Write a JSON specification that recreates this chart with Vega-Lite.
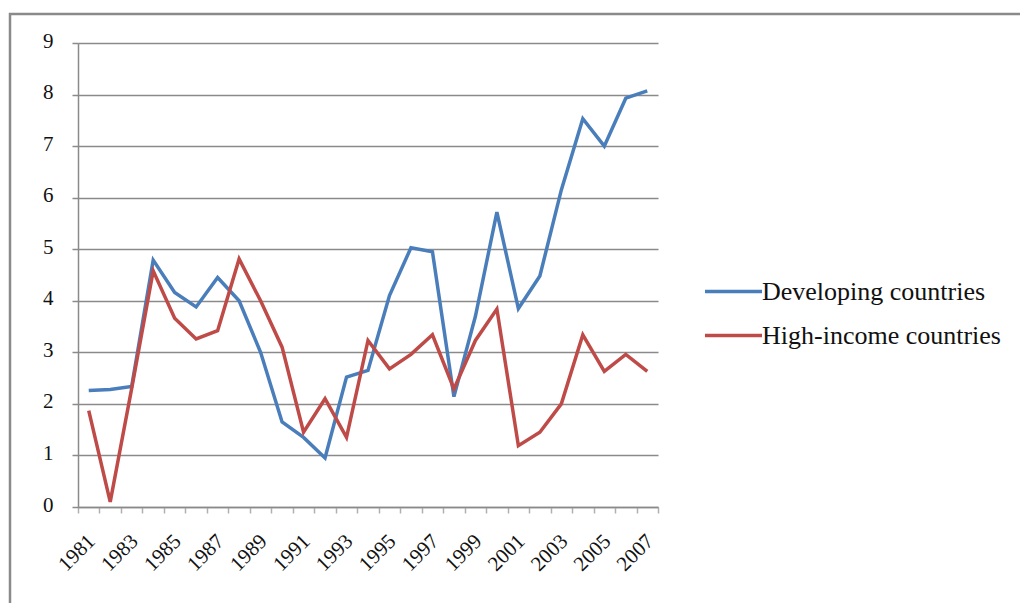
{
  "$schema": "https://vega.github.io/schema/vega-lite/v6.json",
  "width": 1015,
  "height": 600,
  "autosize": {"type": "none"},
  "padding": {"left": 10, "top": 14, "right": 0, "bottom": 0},
  "background": "white",
  "config": {
    "view": {"stroke": "#8a8a8a", "strokeWidth": 2.5},
    "font": "Liberation Serif"
  },
  "data": {
    "values": [
      {"year": "1981", "series": "Developing countries", "value": 2.26},
      {"year": "1982", "series": "Developing countries", "value": 2.28},
      {"year": "1983", "series": "Developing countries", "value": 2.34},
      {"year": "1984", "series": "Developing countries", "value": 4.79},
      {"year": "1985", "series": "Developing countries", "value": 4.16},
      {"year": "1986", "series": "Developing countries", "value": 3.88},
      {"year": "1987", "series": "Developing countries", "value": 4.45},
      {"year": "1988", "series": "Developing countries", "value": 4.0},
      {"year": "1989", "series": "Developing countries", "value": 3.0},
      {"year": "1990", "series": "Developing countries", "value": 1.65},
      {"year": "1991", "series": "Developing countries", "value": 1.35},
      {"year": "1992", "series": "Developing countries", "value": 0.95},
      {"year": "1993", "series": "Developing countries", "value": 2.52},
      {"year": "1994", "series": "Developing countries", "value": 2.65},
      {"year": "1995", "series": "Developing countries", "value": 4.1},
      {"year": "1996", "series": "Developing countries", "value": 5.03},
      {"year": "1997", "series": "Developing countries", "value": 4.95},
      {"year": "1998", "series": "Developing countries", "value": 2.14},
      {"year": "1999", "series": "Developing countries", "value": 3.7},
      {"year": "2000", "series": "Developing countries", "value": 5.72},
      {"year": "2001", "series": "Developing countries", "value": 3.85},
      {"year": "2002", "series": "Developing countries", "value": 4.48},
      {"year": "2003", "series": "Developing countries", "value": 6.15},
      {"year": "2004", "series": "Developing countries", "value": 7.53},
      {"year": "2005", "series": "Developing countries", "value": 7.0},
      {"year": "2006", "series": "Developing countries", "value": 7.93},
      {"year": "2007", "series": "Developing countries", "value": 8.07},
      {"year": "1981", "series": "High-income countries", "value": 1.87},
      {"year": "1982", "series": "High-income countries", "value": 0.1},
      {"year": "1983", "series": "High-income countries", "value": 2.3},
      {"year": "1984", "series": "High-income countries", "value": 4.58},
      {"year": "1985", "series": "High-income countries", "value": 3.66},
      {"year": "1986", "series": "High-income countries", "value": 3.26},
      {"year": "1987", "series": "High-income countries", "value": 3.42},
      {"year": "1988", "series": "High-income countries", "value": 4.81},
      {"year": "1989", "series": "High-income countries", "value": 4.0},
      {"year": "1990", "series": "High-income countries", "value": 3.1},
      {"year": "1991", "series": "High-income countries", "value": 1.45},
      {"year": "1992", "series": "High-income countries", "value": 2.1},
      {"year": "1993", "series": "High-income countries", "value": 1.35},
      {"year": "1994", "series": "High-income countries", "value": 3.23},
      {"year": "1995", "series": "High-income countries", "value": 2.68},
      {"year": "1996", "series": "High-income countries", "value": 2.96},
      {"year": "1997", "series": "High-income countries", "value": 3.34},
      {"year": "1998", "series": "High-income countries", "value": 2.29},
      {"year": "1999", "series": "High-income countries", "value": 3.23},
      {"year": "2000", "series": "High-income countries", "value": 3.84},
      {"year": "2001", "series": "High-income countries", "value": 1.19},
      {"year": "2002", "series": "High-income countries", "value": 1.45},
      {"year": "2003", "series": "High-income countries", "value": 2.0},
      {"year": "2004", "series": "High-income countries", "value": 3.34},
      {"year": "2005", "series": "High-income countries", "value": 2.63},
      {"year": "2006", "series": "High-income countries", "value": 2.96},
      {"year": "2007", "series": "High-income countries", "value": 2.63}
    ]
  },
  "mark": {"type": "line", "strokeWidth": 3.5},
  "encoding": {
    "x": {
      "field": "year",
      "type": "ordinal",
      "bandPosition": 0.5,
      "scale": {"type": "band", "range": [68, 648], "paddingInner": 0, "paddingOuter": 0},
      "axis": {
        "title": null,
        "orient": "bottom",
        "offset": -107,
        "grid": false,
        "tickBand": "extent",
        "domainColor": "#8a8a8a",
        "domainWidth": 1.5,
        "tickColor": "#b0b0b0",
        "tickSize": 6,
        "tickWidth": 1.5,
        "labelAngle": -45,
        "labelFontSize": 21,
        "labelColor": "#111",
        "labelOverlap": false,
        "labelPadding": 17,
        "labelOffset": -5,
        "labelExpr": "toNumber(datum.value) % 2 == 1 ? datum.label : ''"
      }
    },
    "y": {
      "field": "value",
      "type": "quantitative",
      "scale": {"domain": [0, 9], "range": [493, 29], "nice": false, "zero": true},
      "axis": {
        "title": null,
        "offset": -68,
        "values": [0, 1, 2, 3, 4, 5, 6, 7, 8, 9],
        "grid": true,
        "gridColor": "#8a8a8a",
        "gridWidth": 1.5,
        "domainColor": "#8a8a8a",
        "domainWidth": 1.5,
        "tickColor": "#8a8a8a",
        "tickSize": 6,
        "tickWidth": 1.5,
        "labelFontSize": 21,
        "labelColor": "#111",
        "labelPadding": 19,
        "labelOffset": -2
      }
    },
    "color": {
      "field": "series",
      "type": "nominal",
      "scale": {
        "domain": ["Developing countries", "High-income countries"],
        "range": ["#4a7ebb", "#be4b48"]
      },
      "legend": {
        "title": null,
        "orient": "none",
        "legendX": 693,
        "legendY": 247,
        "symbolType": "stroke",
        "symbolSize": 3249,
        "symbolStrokeWidth": 3.5,
        "labelFontSize": 26,
        "labelColor": "#111",
        "labelOffset": -2,
        "rowPadding": -11,
        "labelLimit": 400
      }
    }
  }
}
